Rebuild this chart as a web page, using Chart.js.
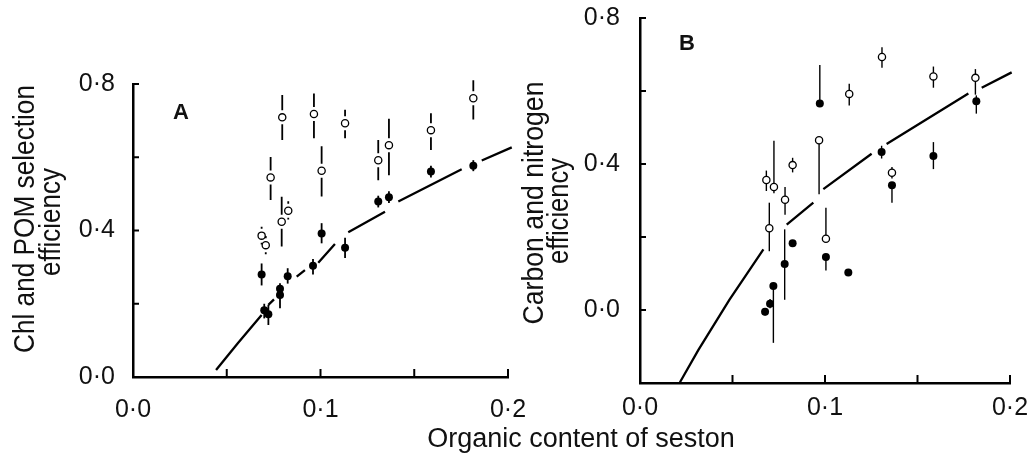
<!DOCTYPE html>
<html>
<head>
<meta charset="utf-8">
<script src="https://cdn.jsdelivr.net/npm/chart.js@4/dist/chart.umd.min.js"></script>
<style>
  html, body { margin: 0; padding: 0; background: #fff; }
  #wrap { position: relative; width: 1033px; height: 457px; overflow: hidden; }
  canvas { position: absolute; top: 0; }
  #chartA { left: 0; }
  #chartB { left: 500px; }
  #xtitle {
    position: absolute; left: 581px; top: 425px; transform: translateX(-50%);
    font-family: "Liberation Sans", Arial, sans-serif; font-size: 27px; line-height: 27px;
    color: #111; white-space: nowrap;
  }
</style>
</head>
<body>
<div id="wrap">
  <canvas id="chartA" width="560" height="457"></canvas>
  <canvas id="chartB" width="533" height="457"></canvas>
  <div id="xtitle">Organic content of seston</div>
</div>
<script>
// Panel A: Chl (open) and POM (filled) selection efficiency
const aOpenX = [0.0686, 0.0708, 0.0734, 0.0793, 0.0828, 0.0796, 0.0965, 0.1006, 0.1131, 0.1308, 0.1365, 0.1589, 0.1815];
const aOpenY = [0.386, 0.360, 0.545, 0.424, 0.454, 0.709, 0.718, 0.563, 0.693, 0.592, 0.633, 0.674, 0.761];
const aOpenLo = [0.362, 0.335, 0.483, 0.356, 0.430, 0.647, 0.652, 0.493, 0.652, 0.537, 0.551, 0.620, 0.703];
const aOpenHi = [0.410, 0.385, 0.601, 0.492, 0.480, 0.770, 0.774, 0.630, 0.730, 0.647, 0.705, 0.720, 0.810];

const aFillX = [0.0686, 0.0700, 0.0722, 0.0784, 0.0784, 0.0825, 0.0960, 0.1006, 0.1131, 0.1308, 0.1365, 0.1589, 0.1815];
const aFillY = [0.280, 0.182, 0.171, 0.241, 0.224, 0.275, 0.304, 0.392, 0.353, 0.479, 0.491, 0.561, 0.577];
const aFillLo = [0.250, 0.160, 0.142, 0.215, 0.188, 0.255, 0.280, 0.365, 0.325, 0.463, 0.475, 0.545, 0.562];
const aFillHi = [0.310, 0.200, 0.197, 0.256, 0.250, 0.297, 0.322, 0.420, 0.380, 0.495, 0.507, 0.577, 0.592];

// fitted curve, null = break in the line
const aCurveX = [0.0443, 0.0560, 0.0686, null, 0.0722, 0.0752, null, 0.0873, 0.0917, null, 0.0988, 0.1077, null, 0.1148, 0.1344, null, 0.1415, 0.1753, null, 0.1860, 0.2020];
const aCurveY = [0.019, 0.093, 0.169, null, 0.197, 0.212, null, 0.274, 0.292, null, 0.312, 0.363, null, 0.395, 0.451, null, 0.479, 0.567, null, 0.591, 0.627];

// Panel B: carbon (open) and nitrogen (filled) efficiency
const bOpenX = [0.0683, 0.0724, 0.0699, 0.0784, 0.0825, 0.0968, 0.1005, 0.1131, 0.1308, 0.1362, 0.1586, 0.1813];
const bOpenY = [0.356, 0.337, 0.224, 0.302, 0.397, 0.465, 0.195, 0.592, 0.693, 0.376, 0.640, 0.636];
const bOpenLo = [0.326, 0.320, 0.161, 0.261, 0.377, 0.317, 0.195, 0.560, 0.664, 0.360, 0.609, 0.590];
const bOpenHi = [0.382, 0.464, 0.294, 0.337, 0.417, 0.465, 0.280, 0.620, 0.720, 0.392, 0.667, 0.660];

const bFillX = [0.0676, 0.0703, 0.0721, 0.0782, 0.0825, 0.0972, 0.1005, 0.1126, 0.1306, 0.1362, 0.1586, 0.1818];
const bFillY = [-0.005, 0.017, 0.066, 0.126, 0.183, 0.566, 0.145, 0.103, 0.433, 0.342, 0.422, 0.572];
const bFillLo = [-0.015, 0.005, -0.090, 0.028, 0.175, 0.566, 0.108, 0.095, 0.415, 0.294, 0.386, 0.538];
const bFillHi = [0.005, 0.030, 0.066, 0.221, 0.190, 0.671, 0.150, 0.110, 0.450, 0.350, 0.460, 0.588];

const bCurveX = [0.0216, 0.0315, 0.0483, 0.0667, null, 0.0793, 0.0937, null, 0.0991, 0.1252, null, 0.1333, 0.1775, null, 0.1847, 0.2009];
const bCurveY = [-0.198, -0.110, 0.028, 0.166, null, 0.234, 0.294, null, 0.331, 0.428, null, 0.455, 0.593, null, 0.609, 0.651];

// axes
const xLabelTicks = [0, 0.1, 0.2];
const yLabelTicks = [0, 0.4, 0.8];
const xMarkTicks = [0.05, 0.1, 0.15, 0.2];
const aYMarkTicks = [0.2, 0.4, 0.6, 0.8];
const bYMarkTicks = [0, 0.2, 0.4, 0.6, 0.8];

const aTitle = ['Chl and POM selection', 'efficiency'];
const bTitle = ['Carbon and nitrogen', 'efficiency'];

const FONT = '"Liberation Sans", Arial, Helvetica, sans-serif';
const INK = '#111';

const fmt = (v) => Number(v).toFixed(1).replace('.', '\u00b7');
const pts = (xs, ys) => xs.map((x, i) => ({ x, y: ys[i] }));
const curvePts = (xs, ys) => {
    const out = [];
    xs.forEach((x, i) => {
        if (x === null) out.push({ x: xs[i - 1], y: null });
        else out.push({ x, y: ys[i] });
    });
    return out;
};

// vertical error bars, drawn under the markers (with an optional gap round the marker)
const errorBars = {
    id: 'errorBars',
    beforeDatasetsDraw(chart, args, opts) {
        const ctx = chart.ctx;
        const y = chart.scales.y;
        chart.data.datasets.forEach((ds, i) => {
            if (!ds.errLo) return;
            const meta = chart.getDatasetMeta(i);
            const gap = ds.errGap || 0;
            ctx.save();
            ctx.strokeStyle = '#000';
            ctx.lineWidth = opts.width;
            meta.data.forEach((pt, j) => {
                const lo = y.getPixelForValue(ds.errLo[j]);
                const hi = y.getPixelForValue(ds.errHi[j]);
                ctx.beginPath();
                if (gap) {
                    if (lo > pt.y + gap) { ctx.moveTo(pt.x, lo); ctx.lineTo(pt.x, pt.y + gap); }
                    if (hi < pt.y - gap) { ctx.moveTo(pt.x, pt.y - gap); ctx.lineTo(pt.x, hi); }
                } else {
                    ctx.moveTo(pt.x, lo);
                    ctx.lineTo(pt.x, hi);
                }
                ctx.stroke();
            });
            ctx.restore();
        });
    }
};

// inward tick marks, panel letter and the rotated y title
const decor = {
    id: 'decor',
    afterDraw(chart, args, opts) {
        const ctx = chart.ctx;
        const { left, bottom, top } = chart.chartArea;
        const xs = chart.scales.x, ys = chart.scales.y;
        ctx.save();
        ctx.strokeStyle = '#000';
        ctx.lineWidth = 2;
        opts.xTicks.forEach((v) => {
            const px = xs.getPixelForValue(v);
            ctx.beginPath();
            ctx.moveTo(px, bottom);
            ctx.lineTo(px, bottom - 8);
            ctx.stroke();
        });
        opts.yTicks.forEach((v) => {
            const py = ys.getPixelForValue(v);
            ctx.beginPath();
            ctx.moveTo(left, py);
            ctx.lineTo(left + 6, py);
            ctx.stroke();
        });
        ctx.fillStyle = INK;
        ctx.font = 'bold 22px ' + FONT;
        ctx.textAlign = 'center';
        ctx.textBaseline = 'middle';
        ctx.fillText(opts.label, left + opts.dx, top + opts.dy);

        ctx.font = '29px ' + FONT;
        ctx.textBaseline = 'alphabetic';
        opts.title.forEach((line, i) => {
            const t = opts.titleLayout[i];
            const w = ctx.measureText(line).width;
            ctx.save();
            ctx.translate(t.x, t.y);
            ctx.rotate(-Math.PI / 2);
            ctx.scale(t.len / w, 1);
            ctx.fillText(line, 0, 0);
            ctx.restore();
        });
        ctx.restore();
    }
};

const makeChart = (id, cfg) => new Chart(document.getElementById(id), {
    type: 'scatter',
    data: {
        datasets: [
            {
                label: 'fit',
                type: 'line',
                data: curvePts(cfg.curveX, cfg.curveY),
                borderColor: '#000',
                borderWidth: 2.3,
                pointRadius: 0,
                tension: 0,
                spanGaps: false,
                clip: false,
            },
            {
                label: 'open',
                data: pts(cfg.openX, cfg.openY),
                errLo: cfg.openLo,
                errHi: cfg.openHi,
                errGap: cfg.openGap,
                pointStyle: 'circle',
                pointRadius: 3.6,
                backgroundColor: '#fff',
                borderColor: '#000',
                borderWidth: 1.3,
            },
            {
                label: 'filled',
                data: pts(cfg.fillX, cfg.fillY),
                errLo: cfg.fillLo,
                errHi: cfg.fillHi,
                pointStyle: 'circle',
                pointRadius: 4,
                backgroundColor: '#000',
                borderColor: '#000',
                borderWidth: 0,
            },
        ],
    },
    options: {
        responsive: false,
        animation: false,
        devicePixelRatio: 1,
        layout: { padding: { top: cfg.padTop, right: cfg.padRight, bottom: 0, left: 0 } },
        scales: {
            x: {
                type: 'linear',
                min: 0,
                max: 0.2,
                afterBuildTicks: (s) => { s.ticks = xLabelTicks.map((v) => ({ value: v })); },
                afterFit: (s) => { s.height = cfg.xHeight; s.paddingLeft = 0; s.paddingRight = 0; },
                grid: { display: false, drawTicks: false },
                border: { display: true, color: '#000', width: 2.5 },
                ticks: {
                    callback: fmt,
                    color: INK,
                    padding: cfg.xPad,
                    maxRotation: 0,
                    autoSkip: false,
                    font: { family: FONT, size: 25 },
                },
            },
            y: {
                type: 'linear',
                min: cfg.yMin,
                max: 0.8,
                afterBuildTicks: (s) => { s.ticks = yLabelTicks.map((v) => ({ value: v })); },
                afterFit: (s) => { s.width = cfg.yWidth; s.paddingTop = 0; s.paddingBottom = 0; },
                grid: { display: false, drawTicks: false },
                border: { display: true, color: '#000', width: 2.5 },
                ticks: {
                    callback: fmt,
                    color: INK,
                    padding: cfg.yPad,
                    autoSkip: false,
                    font: { family: FONT, size: 25 },
                },
            },
        },
        plugins: {
            legend: { display: false },
            tooltip: { enabled: false },
            errorBars: { width: cfg.barWidth },
            decor: {
                xTicks: xMarkTicks, yTicks: cfg.yMarks,
                label: cfg.panel, dx: cfg.labelDx, dy: cfg.labelDy,
                title: cfg.yTitle, titleLayout: cfg.titleLayout,
            },
        },
    },
    plugins: [errorBars, decor],
});

makeChart('chartA', {
    curveX: aCurveX, curveY: aCurveY,
    openX: aOpenX, openY: aOpenY, openLo: aOpenLo, openHi: aOpenHi, openGap: 7,
    fillX: aFillX, fillY: aFillY, fillLo: aFillLo, fillHi: aFillHi,
    yMin: 0, yMarks: aYMarkTicks,
    yTitle: aTitle,
    titleLayout: [{ x: 33.5, y: 219, len: 268 }, { x: 60, y: 222, len: 108 }],
    panel: 'A', labelDx: 48, labelDy: 29,
    padTop: 84, padRight: 52, xHeight: 80, yWidth: 133,
    xPad: 18, yPad: 18, barWidth: 1.8,
});

makeChart('chartB', {
    curveX: bCurveX, curveY: bCurveY,
    openX: bOpenX, openY: bOpenY, openLo: bOpenLo, openHi: bOpenHi, openGap: 0,
    fillX: bFillX, fillY: bFillY, fillLo: bFillLo, fillHi: bFillHi,
    yMin: -0.2, yMarks: bYMarkTicks,
    yTitle: bTitle,
    titleLayout: [{ x: 43.3, y: 203, len: 243 }, { x: 68.3, y: 211, len: 106 }],
    panel: 'B', labelDx: 47, labelDy: 26,
    padTop: 18, padRight: 23, xHeight: 74, yWidth: 140,
    xPad: 10, yPad: 20, barWidth: 1.4,
});
</script>
</body>
</html>
